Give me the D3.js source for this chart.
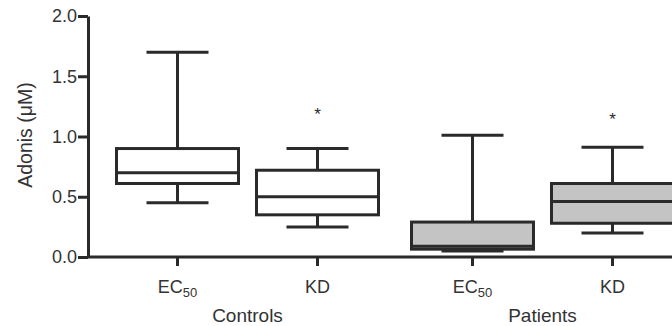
<!DOCTYPE html>
<html>
<head>
<meta charset="utf-8">
<script src="https://cdn.jsdelivr.net/npm/d3@7"></script>
<style>
  body { margin: 0; background: #fff; }
  svg { display: block; font-family: "Liberation Sans", Arial, sans-serif; }
</style>
</head>
<body>
<div id="chart"></div>
<script>
// 数据
const groups = ["Controls", "Patients"];
const measures = ["EC50", "KD"];
const boxGroup = ["Controls", "Controls", "Patients", "Patients"];
const boxMeasure = ["EC50", "KD", "EC50", "KD"];
const whiskerLow = [0.45, 0.25, 0.05, 0.20];
const q1 = [0.61, 0.35, 0.065, 0.28];
const median = [0.70, 0.50, 0.09, 0.46];
const q3 = [0.90, 0.72, 0.29, 0.61];
const whiskerHigh = [1.70, 0.90, 1.01, 0.91];
const outlier = [null, 1.21, null, 1.17];
const yTicks = [0.0, 0.5, 1.0, 1.5, 2.0];

const width = 672, height = 326;
const ink = "#2a2a2a";
const textColor = "#333";
const fillColor = { Controls: "#ffffff", Patients: "#c4c4c4" };

const svg = d3.select("#chart").append("svg")
    .attr("width", width)
    .attr("height", height);

// 比例尺
const y = d3.scaleLinear().domain([0, 2]).range([257, 16]);
const xGroup = d3.scaleBand().domain(groups).range([100, 690]).padding(0);
const xInner = d3.scalePoint().domain(measures).range([0, xGroup.bandwidth()]).padding(0.5536);
const xPos = (g, m) => xGroup(g) + xInner(m);
const halfBox = 61, halfCap = 31;

// y轴
const yAxis = svg.append("g")
    .attr("transform", "translate(88,0)")
    .call(d3.axisLeft(y).tickValues(yTicks).tickFormat(d3.format(".1f")).tickSize(10).tickSizeOuter(0));
yAxis.select(".domain").attr("stroke", ink).attr("stroke-width", 3);
yAxis.selectAll(".tick line").attr("stroke", ink).attr("stroke-width", 3);
yAxis.selectAll(".tick text")
    .attr("x", -11)
    .attr("font-size", 18)
    .attr("fill", textColor)
    .attr("font-family", "Liberation Sans, Arial, sans-serif");

svg.append("text")
    .attr("transform", "translate(32,135) rotate(-90)")
    .attr("text-anchor", "middle")
    .attr("font-size", 19.5)
    .attr("fill", textColor)
    .text("Adonis (μM)");

// x轴线
svg.append("line")
    .attr("x1", 87).attr("x2", width)
    .attr("y1", y(0)).attr("y2", y(0))
    .attr("stroke", ink).attr("stroke-width", 3);

// 箱线图
const boxes = boxGroup.map((g, i) => ({
  g, m: boxMeasure[i], lo: whiskerLow[i], q1: q1[i], med: median[i], q3: q3[i], hi: whiskerHigh[i], out: outlier[i]
}));

boxes.forEach(b => {
  const cx = xPos(b.g, b.m);
  const gEl = svg.append("g").attr("stroke", ink).attr("stroke-width", 3);

  // 刻度
  gEl.append("line").attr("x1", cx).attr("x2", cx).attr("y1", y(0)).attr("y2", y(0) + 9);

  // 须
  gEl.append("line").attr("x1", cx).attr("x2", cx).attr("y1", y(b.hi)).attr("y2", y(b.q3));
  gEl.append("line").attr("x1", cx).attr("x2", cx).attr("y1", y(b.q1)).attr("y2", y(b.lo));
  gEl.append("line").attr("x1", cx - halfCap).attr("x2", cx + halfCap).attr("y1", y(b.hi)).attr("y2", y(b.hi));
  gEl.append("line").attr("x1", cx - halfCap).attr("x2", cx + halfCap).attr("y1", y(b.lo)).attr("y2", y(b.lo));

  // 箱体
  gEl.append("rect")
      .attr("x", cx - halfBox).attr("width", halfBox * 2)
      .attr("y", y(b.q3)).attr("height", y(b.q1) - y(b.q3))
      .attr("fill", fillColor[b.g]);
  gEl.append("line").attr("x1", cx - halfBox).attr("x2", cx + halfBox).attr("y1", y(b.med)).attr("y2", y(b.med));

  if (b.out !== null) {
    svg.append("text")
        .attr("x", cx).attr("y", y(b.out) + 9)
        .attr("text-anchor", "middle")
        .attr("font-size", 17)
        .attr("fill", ink)
        .text("*");
  }

  // 类别标签
  const t = svg.append("text")
      .attr("x", cx).attr("y", 293)
      .attr("text-anchor", "middle")
      .attr("font-size", 18)
      .attr("fill", textColor);
  if (b.m === "EC50") {
    t.append("tspan").text("EC");
    t.append("tspan").attr("font-size", 13).attr("dy", 4).text("50");
  } else {
    t.text(b.m);
  }
});

// 组标签
groups.forEach(g => {
  svg.append("text")
      .attr("x", xGroup(g) + xGroup.bandwidth() / 2)
      .attr("y", 322)
      .attr("text-anchor", "middle")
      .attr("font-size", 19)
      .attr("fill", textColor)
      .text(g);
});
</script>
</body>
</html>
